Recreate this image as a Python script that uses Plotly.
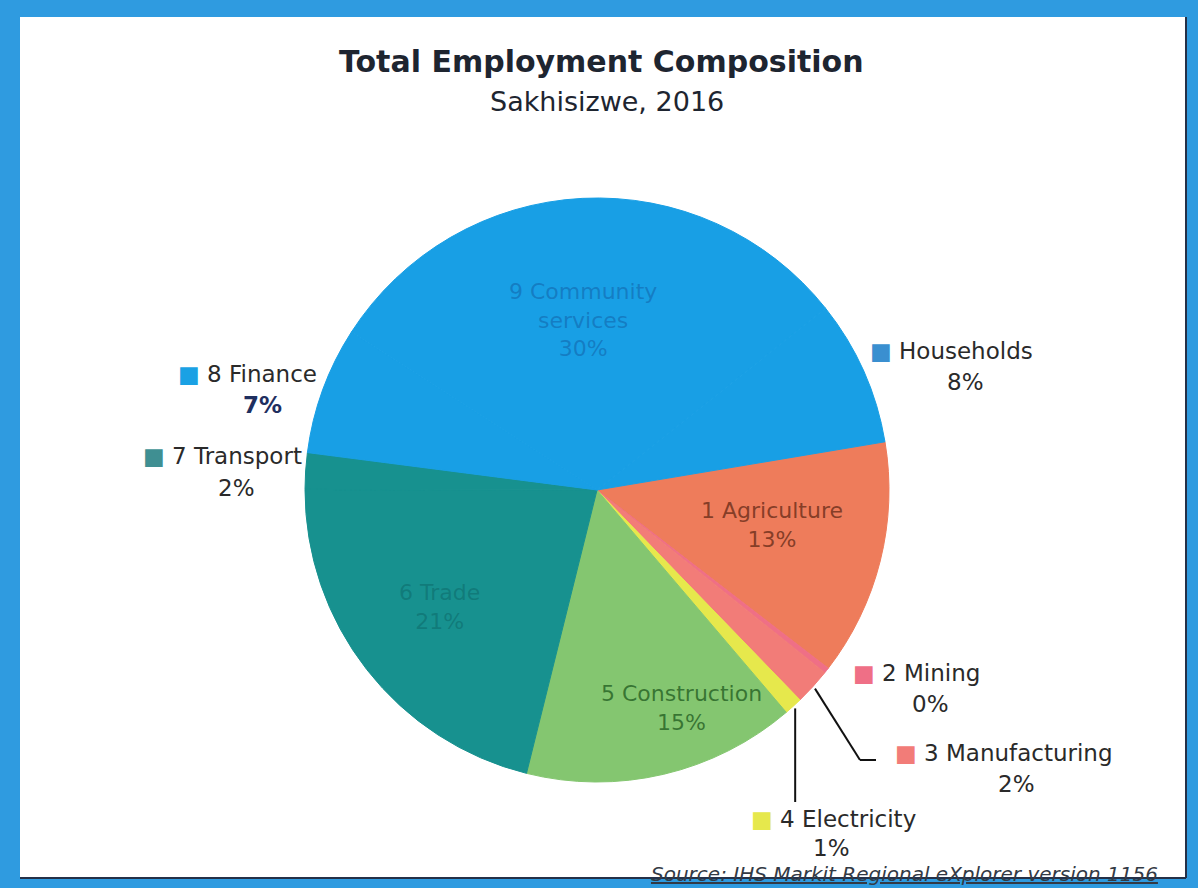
import math
import plotly.graph_objects as go

W, H = 1198, 888

# Employment shares by sector (percent), Sakhisizwe 2016
sectors = ["1 Agriculture", "2 Mining", "3 Manufacturing", "4 Electricity",
           "5 Construction", "6 Trade", "7 Transport", "8 Finance",
           "9 Community services", "Households"]
shares = [13, 0.3, 2, 1, 15, 21, 2, 7, 30, 8]

colors = ["#ee7c5b", "#ef6f86", "#f27c78", "#e6e84c", "#84c670", "#17918f",
          "#17918f", "#189fe5", "#189fe5", "#189fe5"]
key_colors = ["#ee7c5b", "#ef6f86", "#f27c78", "#e6e84c", "#84c670", "#17918f",
              "#3f8f92", "#1aa1e4", "#189fe5", "#3a8fd0"]

title = "Total Employment Composition"
subtitle = "Sakhisizwe, 2016"
source = "Source: IHS Markit Regional eXplorer version 1156"

FONT = "DejaVu Sans"
START_ANGLE = 80.5           # first slice starts here, clockwise from 12 o'clock
CX, CY, R = 597, 490, 292    # pie centre and radius in pixels


def P(x, y):
    """Pixel position -> paper coordinates."""
    return x / W, 1 - y / H


total = sum(shares)
pct = [round(v / total * 100) for v in shares]

# mid angle of every slice (degrees clockwise from 12 o'clock)
mid = []
acc = START_ANGLE
for v in shares:
    a = v / total * 360
    mid.append(acc + a / 2)
    acc += a


def edge(i, k=1.0):
    t = math.radians(mid[i])
    return CX + k * R * math.sin(t), CY - k * R * math.cos(t)


fig = go.Figure()
dx0, dy_top = P(CX - R, CY - R)
dx1, dy_bot = P(CX + R, CY + R)
fig.add_trace(go.Pie(
    labels=sectors, values=shares, sort=False, direction="clockwise",
    rotation=START_ANGLE,
    # each slice outlined in its own colour so neighbours join without seams
    marker=dict(colors=colors, line=dict(color=colors, width=1)),
    textinfo="none", hoverinfo="label+percent", showlegend=False,
    domain=dict(x=[dx0, dx1], y=[dy_bot, dy_top]),
))

annotations = []


def note(x, y, text, size, color="#222222", **kw):
    px, py = P(x, y)
    annotations.append(dict(
        x=px, y=py, xref="paper", yref="paper", text=text, showarrow=False,
        xanchor=kw.pop("xanchor", "center"), yanchor=kw.pop("yanchor", "middle"),
        align=kw.pop("align", "center"),
        font=dict(family=FONT, size=size, color=color), **kw))


note(601, 62, f"<b>{title}</b>", 30, "#1e2530")
note(607, 101, subtitle, 27, "#1e2530")

# labels drawn inside the larger slices
inside = {8: (583, 320, "rgba(18,95,165,0.55)"),
          0: (772, 525, "rgba(105,45,25,0.8)"),
          5: (440, 607, "rgba(10,95,95,0.45)"),
          4: (682, 708, "rgba(30,90,30,0.75)")}
for i, (x, y, c) in inside.items():
    name = sectors[i].replace(" services", "<br>services")
    note(x, y, f"{name}<br>{pct[i]}%", 22, c)

# labels placed outside the pie with a colour key: (name centre, percent centre)
outside = {7: ((247, 374), (262, 405)),
           6: ((222, 456), (236, 488)),
           9: ((951, 351), (965, 382)),
           1: ((916, 673), (930, 704)),
           2: ((1004, 753), (1016, 784)),
           3: ((833, 819), (831, 848))}
for i, ((nx, ny), (qx, qy)) in outside.items():
    key = f"<span style='color:{key_colors[i]}'>■</span>"
    note(nx, ny, f"{key} {sectors[i]}", 23, "#2a2a2a")
    p = f"{pct[i]}%"
    if i == 7:
        note(qx, qy, f"<b>{p}</b>", 23, "#1f2f5f")
    else:
        note(qx, qy, p, 23, "#2a2a2a")

note(1160, 874, f"<i><u>{source}</u></i>", 20, "#333a45", xanchor="right")

shapes = []


def rect(xa, ya, xb, yb, fill, layer="below"):
    a, b = P(xa, ya)
    c, d = P(xb, yb)
    shapes.append(dict(type="rect", xref="paper", yref="paper", x0=a, y0=d,
                       x1=c, y1=b, fillcolor=fill, line=dict(width=0),
                       layer=layer))


def seg(xa, ya, xb, yb, color="#111111", width=2):
    a, b = P(xa, ya)
    c, d = P(xb, yb)
    shapes.append(dict(type="line", xref="paper", yref="paper", x0=a, y0=b,
                       x1=c, y1=d, line=dict(color=color, width=width)))


# white card inside the blue frame
rect(20, 17, 1186, 877, "#ffffff")
seg(1186, 17, 1186, 878, "#243048", 2)
seg(20, 878, 1186, 878, "#243048", 2)

# leader lines for the thin slices
mx, my = edge(2, 1.01)
seg(mx, my, 860, 760)
seg(860, 760, 876, 760)
ex, ey = edge(3, 1.01)
seg(ex, ey, ex, 802)

fig.update_layout(
    width=W, height=H, margin=dict(l=0, r=0, t=0, b=0),
    paper_bgcolor="#2f9be0", plot_bgcolor="#ffffff",
    annotations=annotations, shapes=shapes,
)

fig.write_html("out.html")
